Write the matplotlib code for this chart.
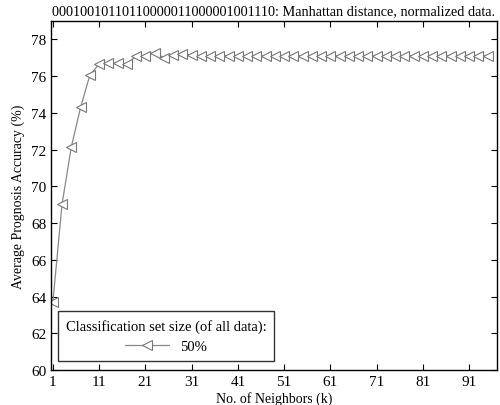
import matplotlib
matplotlib.use("Agg")
import matplotlib.pyplot as plt
import numpy as np

k = list(range(1, 96, 2))
acc_head = [63.7, 69.05, 72.15, 74.3, 76.05, 76.65, 76.7, 76.7, 76.65, 77.1,
            77.1, 77.28, 77.0, 77.15, 77.2, 77.15, 77.1]
acc = acc_head + [77.1] * (len(k) - len(acc_head))
xticks = [1, 11, 21, 31, 41, 51, 61, 71, 81, 91]
yticks = [60, 62, 64, 66, 68, 70, 72, 74, 76, 78]

plt.rcParams['font.family'] = ['Liberation Serif', 'DejaVu Serif']
fig = plt.figure(figsize=(5, 4.06), dpi=100)
ax = fig.add_axes([0.102, 0.086, 0.892, 0.86])
ax.plot(k, acc, color='#888888', lw=0.9, marker='<', ms=7, mfc='white',
        mec='#777777', mew=0.8, label='50%')
ax.set_xlim(0.6, 97)
ax.set_ylim(60, 79)
ax.set_xticks(xticks)
ax.set_yticks(yticks)
ax.tick_params(direction='in', top=True, right=True, labelsize=11, length=4)
ax.set_xlabel('No. of Neighbors (k)', fontsize=10, labelpad=2)
ax.set_ylabel('Average Prognosis Accuracy (%)', fontsize=10)
ax.set_title('0001001011011000001100000100111' + '0: Manhattan distance, normalized data.',
             fontsize=10.3, pad=5)
leg = ax.legend(loc='lower left', title='Classification set size (of all data):',
                fontsize=10.5, title_fontsize=10.5, fancybox=False, edgecolor='black',
                bbox_to_anchor=(0.015, 0.025), borderaxespad=0.0,
                borderpad=0.55, handlelength=3)
leg.get_frame().set_linewidth(1.0)
for s in ax.spines.values():
    s.set_linewidth(1.0)
fig.savefig('out.png', dpi=100)
